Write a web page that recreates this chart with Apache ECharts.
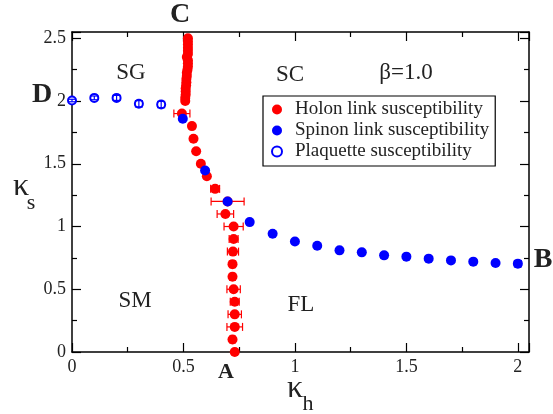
<!DOCTYPE html>
<html>
<head>
<meta charset="utf-8">
<script src="https://cdn.jsdelivr.net/npm/echarts@6/dist/echarts.min.js"></script>
<style>
  html, body { margin: 0; padding: 0; background: #fff; }
  #main { width: 553px; height: 414px; }
</style>
</head>
<body>
<div id="main"></div>
<script>
// holon link susceptibility (red), x error bars
var holonX = [0.52, 0.52, 0.52, 0.52, 0.52, 0.52, 0.515, 0.52, 0.52, 0.52, 0.518,
              0.515, 0.515, 0.513, 0.513, 0.512, 0.51, 0.51, 0.51, 0.508, 0.508,
              0.493, 0.538, 0.545, 0.557, 0.578, 0.605, 0.642, 0.698, 0.688,
              0.725, 0.725, 0.722, 0.72, 0.72, 0.725, 0.73, 0.73, 0.73, 0.72, 0.73];
var holonY = [2.5, 2.475, 2.45, 2.425, 2.4, 2.375, 2.35, 2.325, 2.3, 2.275, 2.25,
              2.225, 2.2, 2.175, 2.15, 2.125, 2.1, 2.075, 2.05, 2.025, 2.0,
              1.9, 1.8, 1.7, 1.6, 1.5, 1.4, 1.3, 1.2, 1.1,
              1.0, 0.9, 0.8, 0.7, 0.6, 0.5, 0.4, 0.3, 0.2, 0.1, 0.0];
var holonErr = [0, 0, 0, 0, 0, 0, 0, 0, 0, 0, 0,
                0, 0, 0, 0, 0, 0, 0, 0, 0, 0,
                0.036, 0, 0, 0, 0, 0, 0.02, 0.074, 0.037,
                0.043, 0.02, 0.025, 0.012, 0.012, 0.03, 0.02, 0.03, 0.035, 0.012, 0.01];

// spinon link susceptibility (blue filled), y error bars
var spinonX = [0.497, 0.597, 0.698, 0.797, 0.9, 1.0, 1.1, 1.2, 1.3, 1.4, 1.5, 1.6, 1.7, 1.8, 1.9, 2.0];
var spinonY = [1.858, 1.447, 1.2, 1.035, 0.943, 0.881, 0.847, 0.81, 0.794, 0.77, 0.76, 0.744, 0.73, 0.72, 0.709, 0.704];
var spinonErr = [0, 0, 0, 0, 0.01, 0, 0, 0, 0, 0.02, 0, 0, 0, 0, 0, 0.025];

// plaquette susceptibility (blue open), y error bars
var plaqX = [0, 0.1, 0.2, 0.3, 0.4];
var plaqY = [2.004, 2.025, 2.025, 1.978, 1.972];
var plaqErr = [0.01, 0.015, 0.02, 0.025, 0.025];

var serif = 'Liberation Serif';
var RED = '#ff0000', BLUE = '#0000ff';

function zip(a, b, c) {
    return a.map(function (v, i) { return c ? [v, b[i], c[i]] : [v, b[i]]; });
}

function errBars(dir, color) {
    return function (params, api) {
        var x = api.value(0), y = api.value(1), e = api.value(2);
        if (!e) return null;
        var cap = 4, p0, p1, kids = [];
        var st = {stroke: color, lineWidth: 1.2};
        if (dir === 'x') {
            p0 = api.coord([x - e, y]); p1 = api.coord([x + e, y]);
            kids.push({type: 'line', shape: {x1: p0[0], y1: p0[1], x2: p1[0], y2: p1[1]}, style: st});
            kids.push({type: 'line', shape: {x1: p0[0], y1: p0[1] - cap, x2: p0[0], y2: p0[1] + cap}, style: st});
            kids.push({type: 'line', shape: {x1: p1[0], y1: p1[1] - cap, x2: p1[0], y2: p1[1] + cap}, style: st});
        } else {
            p0 = api.coord([x, y - e]); p1 = api.coord([x, y + e]);
            kids.push({type: 'line', shape: {x1: p0[0], y1: p0[1], x2: p1[0], y2: p1[1]}, style: st});
            kids.push({type: 'line', shape: {x1: p0[0] - cap, y1: p0[1], x2: p0[0] + cap, y2: p0[1]}, style: st});
            kids.push({type: 'line', shape: {x1: p1[0] - cap, y1: p1[1], x2: p1[0] + cap, y2: p1[1]}, style: st});
        }
        return {type: 'group', children: kids};
    };
}

// fresh style objects for each axis
function axisStyle(showLabel) {
    return {
        axisLine: {show: true, onZero: false, lineStyle: {color: '#000', width: 1.5}},
        axisTick: {show: true, inside: true, length: 9, lineStyle: {color: '#000', width: 1.2}},
        minorTick: {show: true, splitNumber: 2, length: 5, lineStyle: {color: '#000', width: 1.2}},
        splitLine: {show: false},
        axisLabel: showLabel
            ? {fontFamily: serif, fontSize: 18, color: '#222', margin: 6, showMaxLabel: false}
            : {show: false}
    };
}

function txt(x, y, s, size, bold) {
    return {
        type: 'text', x: x, y: y,
        style: {text: s, font: (bold ? 'bold ' : '') + size + 'px "' + serif + '"',
                fill: '#222', align: 'center', verticalAlign: 'middle'}
    };
}

var xBottom = Object.assign({type: 'value', min: 0, max: 2.05, interval: 0.5}, axisStyle(true));
var xTop = Object.assign({type: 'value', position: 'top', min: 0, max: 2.05, interval: 0.5}, axisStyle(false));
var yLeft = Object.assign({type: 'value', min: 0, max: 2.55, interval: 0.5}, axisStyle(true));
var yRight = Object.assign({type: 'value', position: 'right', min: 0, max: 2.55, interval: 0.5}, axisStyle(false));

var chart = echarts.init(document.getElementById('main'));
chart.setOption({
    animation: false,
    backgroundColor: '#fff',
    grid: {left: 72, right: 24, top: 32, bottom: 62, containLabel: false, outerBoundsMode: 'none'},
    xAxis: [xBottom, xTop],
    yAxis: [yLeft, yRight],
    legend: {
        left: 263, top: 96, orient: 'vertical',
        padding: [4, 6, 5, 8], itemGap: 2,
        itemWidth: 26, itemHeight: 10,
        borderColor: '#000', borderWidth: 1.2, borderRadius: 0,
        backgroundColor: '#fff',
        textStyle: {fontFamily: serif, fontSize: 19, color: '#222', lineHeight: 18},
        data: ['Holon link susceptibility', 'Spinon link susceptibility', 'Plaquette susceptibility']
    },
    series: [{
        type: 'custom', name: 'holonErr', renderItem: errBars('x', RED),
        data: zip(holonX, holonY, holonErr), z: 2, silent: true
    }, {
        type: 'scatter', name: 'Holon link susceptibility',
        symbol: 'circle', symbolSize: 10, itemStyle: {color: RED, opacity: 1},
        data: zip(holonX, holonY), z: 3
    }, {
        type: 'custom', name: 'spinonErr', renderItem: errBars('y', BLUE),
        data: zip(spinonX, spinonY, spinonErr), z: 4, silent: true
    }, {
        type: 'scatter', name: 'Spinon link susceptibility',
        symbol: 'circle', symbolSize: 10, itemStyle: {color: BLUE, opacity: 1},
        data: zip(spinonX, spinonY), z: 5
    }, {
        type: 'scatter', name: 'Plaquette susceptibility',
        symbol: 'emptyCircle', symbolSize: 8,
        itemStyle: {color: BLUE, borderColor: BLUE, borderWidth: 1.2, opacity: 1},
        data: zip(plaqX, plaqY), z: 5
    }, {
        type: 'custom', name: 'plaqErr', renderItem: errBars('y', BLUE),
        data: zip(plaqX, plaqY, plaqErr), z: 6, silent: true
    }],
    graphic: [
        // axis titles: kappa with subscript
        txt(295, 389, 'κ', 32),
        txt(308, 404, 'h', 22),
        txt(21, 187, 'κ', 32),
        txt(31, 203, 's', 22),
        // phase-boundary end points and regions
        txt(180, 15, 'C', 28, true),
        txt(42, 95, 'D', 28, true),
        txt(226, 372, 'A', 22, true),
        txt(543, 260, 'B', 28, true),
        txt(131, 73, 'SG', 23),
        txt(290, 75, 'SC', 23),
        txt(406, 73, 'β=1.0', 23),
        txt(135, 301, 'SM', 23),
        txt(301, 305, 'FL', 23)
    ]
});
</script>
</body>
</html>
